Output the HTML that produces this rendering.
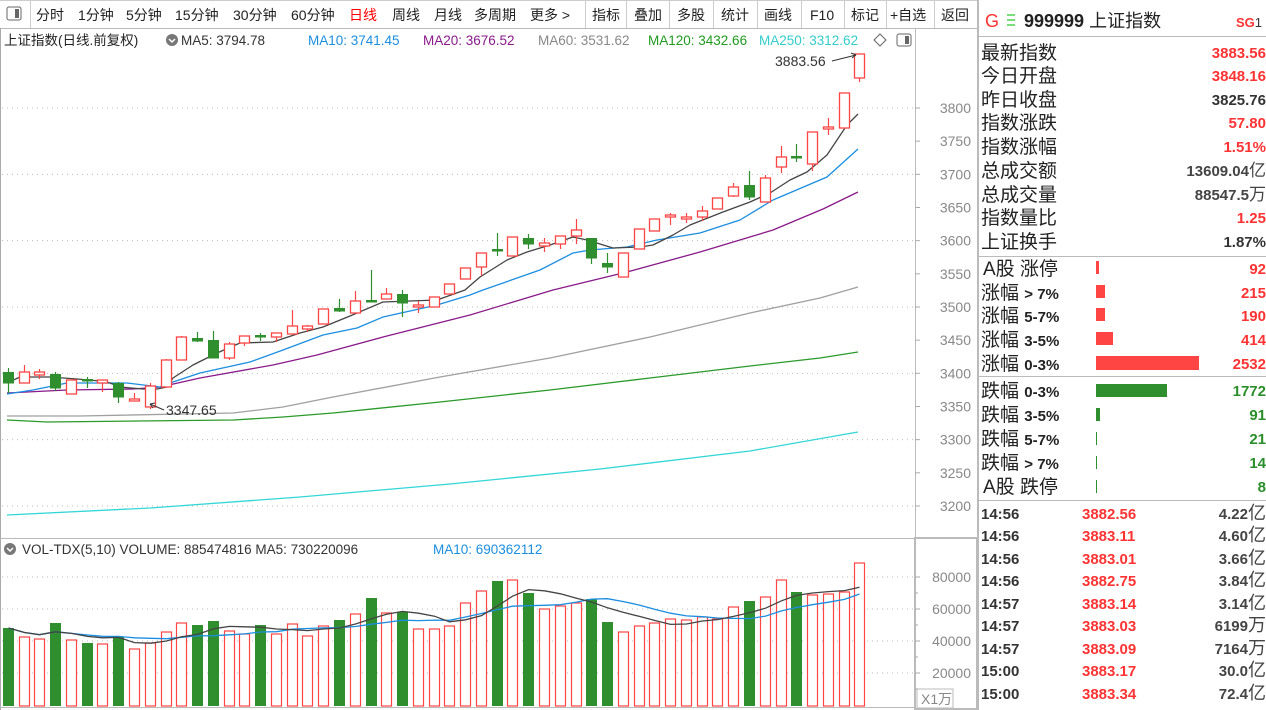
<!DOCTYPE html>
<html><head><meta charset="utf-8"><style>
html,body{margin:0;padding:0;background:#fff;width:1266px;height:710px;overflow:hidden}
svg{display:block}
text{font-family:"Liberation Sans","Noto Sans CJK SC",sans-serif}
.cj{font-family:"Liberation Sans","Noto Sans CJK SC",sans-serif}
</style></head><body>
<svg id="s" width="1266" height="710" xmlns="http://www.w3.org/2000/svg">
<rect width="1266" height="710" fill="#fff"/>
<!-- toolbar -->
<line x1="0" y1="28.5" x2="978" y2="28.5" stroke="#bbb"/>
<line x1="0" y1="0.5" x2="978" y2="0.5" stroke="#ccc"/>
<rect x="7" y="7" width="14" height="13" rx="2" fill="none" stroke="#666"/><rect x="15" y="9" width="4" height="9" fill="#666"/>
<g stroke="#ccc"><line x1="30.5" y1="1" x2="30.5" y2="28"/><line x1="585.5" y1="1" x2="585.5" y2="28"/><line x1="626.5" y1="1" x2="626.5" y2="28"/><line x1="669.5" y1="1" x2="669.5" y2="28"/><line x1="713.5" y1="1" x2="713.5" y2="28"/><line x1="757.5" y1="1" x2="757.5" y2="28"/><line x1="801.5" y1="1" x2="801.5" y2="28"/><line x1="844.5" y1="1" x2="844.5" y2="28"/><line x1="886.5" y1="1" x2="886.5" y2="28"/><line x1="934.5" y1="1" x2="934.5" y2="28"/></g>
<g font-size="14" fill="#222">
<text x="36" y="20">分时</text><text x="78" y="20">1分钟</text><text x="126" y="20">5分钟</text><text x="175" y="20">15分钟</text><text x="233" y="20">30分钟</text><text x="291" y="20">60分钟</text><text x="349" y="20" fill="#f00">日线</text><text x="392" y="20">周线</text><text x="434" y="20">月线</text><text x="474" y="20">多周期</text><text x="530" y="20">更多 &gt;</text>
<text x="592" y="20">指标</text><text x="634" y="20">叠加</text><text x="677" y="20">多股</text><text x="721" y="20">统计</text><text x="764" y="20">画线</text><text x="810" y="20">F10</text><text x="851" y="20">标记</text><text x="890" y="20">+自选</text><text x="941" y="20">返回</text>
</g>
<!-- title line -->
<g font-size="13.5">
<text x="4" y="45" fill="#222">上证指数(日线.前复权)</text>
<circle cx="172" cy="40" r="6" fill="#777"/><path d="M169 39 l3 3 l3 -3" stroke="#fff" fill="none" stroke-width="1.5"/>
<text x="181" y="45" fill="#333">MA5: 3794.78</text>
<text x="308" y="45" fill="#1a8ee0">MA10: 3741.45</text>
<text x="423" y="45" fill="#8a1a8a">MA20: 3676.52</text>
<text x="538" y="45" fill="#888">MA60: 3531.62</text>
<text x="648" y="45" fill="#1f9a1f">MA120: 3432.66</text>
<text x="759" y="45" fill="#33cccc">MA250: 3312.62</text>
</g>
<path d="M880 34 l6 6 l-6 6 l-6 -6z" fill="none" stroke="#666"/>
<rect x="897" y="34" width="14" height="12" rx="2" fill="none" stroke="#666"/><rect x="905" y="36" width="4" height="8" fill="#666"/>
<!-- frame -->
<line x1="0.5" y1="28" x2="0.5" y2="710" stroke="#aaa"/>
<line x1="915.5" y1="28" x2="915.5" y2="708" stroke="#bbb"/>
<line x1="0" y1="538.5" x2="978" y2="538.5" stroke="#bbb"/>
<rect x="915" y="538" width="62" height="171" fill="none" stroke="#bbb" stroke-width="2"/>
<line x1="0" y1="707.5" x2="915" y2="707.5" stroke="#bbb"/>
<line x1="978" y1="0" x2="978" y2="710" stroke="#bbb" stroke-width="2"/>
<g id="grid" stroke="#bbb" stroke-dasharray="1,4"></g>
<g id="axis" font-size="14" fill="#888" text-anchor="end"></g>
<text x="921" y="704" font-size="14" fill="#888">X1万</text>
<rect x="917" y="689" width="36" height="19" fill="none" stroke="#bbb"/>
<g id="ma"></g>
<g id="cdl"></g>
<!-- annotations -->
<path d="M150 404 L164 410" stroke="#333" fill="none"/><path d="M150 404 l5 -1 M150 404 l3 4" stroke="#333"/>
<text x="166" y="415" font-size="14" fill="#333">3347.65</text>
<text x="775" y="66" font-size="14" fill="#333">3883.56</text>
<path d="M832 61 L856 55" stroke="#333"/><path d="M856 55 l-5 -2 M856 55 l-4 3" stroke="#333"/>
<!-- volume -->
<g font-size="13.5">
<circle cx="10" cy="549" r="6" fill="#777"/><path d="M7 548 l3 3 l3 -3" stroke="#fff" fill="none" stroke-width="1.5"/>
<text x="22" y="554" fill="#333">VOL-TDX(5,10)  VOLUME: 885474816  MA5: 730220096</text>
<text x="433" y="554" fill="#1a8ee0">MA10: 690362112</text>
</g>
<g id="vol"></g>
<!-- right panel -->
<text x="985" y="27" font-size="18" fill="#f33">G</text>
<g stroke="#3c3" stroke-width="1.3"><line x1="1007" y1="15" x2="1015" y2="15"/><line x1="1007" y1="20" x2="1015" y2="20"/><line x1="1007" y1="25" x2="1015" y2="25"/></g>
<text x="1024" y="27" font-size="18" fill="#222"><tspan font-weight="bold">999999</tspan> 上证指数</text>
<text x="1236" y="27" font-size="13" fill="#f33" font-weight="bold">SG<tspan fill="#333" font-weight="normal">1</tspan></text>
<line x1="979" y1="36.5" x2="1266" y2="36.5" stroke="#bbb"/>
<line x1="979" y1="256.5" x2="1266" y2="256.5" stroke="#bbb"/>
<line x1="979" y1="376.5" x2="1266" y2="376.5" stroke="#bbb"/>
<line x1="979" y1="500.5" x2="1266" y2="500.5" stroke="#bbb"/>
<g font-size="19" fill="#222">
<text x="981" y="59">最新指数</text><text x="981" y="82">今日开盘</text><text x="981" y="106">昨日收盘</text><text x="981" y="129">指数涨跌</text><text x="981" y="153">指数涨幅</text><text x="981" y="177">总成交额</text><text x="981" y="201">总成交量</text><text x="981" y="224">指数量比</text><text x="981" y="248">上证换手</text>
<text x="983" y="275">A股 涨停</text><text x="981" y="299">涨幅 <tspan font-size="15" font-weight="bold">&gt; 7%</tspan></text><text x="981" y="322">涨幅 <tspan font-size="15" font-weight="bold">5-7%</tspan></text><text x="981" y="346">涨幅 <tspan font-size="15" font-weight="bold">3-5%</tspan></text><text x="981" y="370">涨幅 <tspan font-size="15" font-weight="bold">0-3%</tspan></text>
<text x="981" y="397">跌幅 <tspan font-size="15" font-weight="bold">0-3%</tspan></text><text x="981" y="421">跌幅 <tspan font-size="15" font-weight="bold">3-5%</tspan></text><text x="981" y="445">跌幅 <tspan font-size="15" font-weight="bold">5-7%</tspan></text><text x="981" y="469">跌幅 <tspan font-size="15" font-weight="bold">&gt; 7%</tspan></text><text x="983" y="493">A股 跌停</text>
</g>
<g font-size="15" font-weight="bold" text-anchor="end">
<text x="1266" y="58" fill="#f33">3883.56</text><text x="1266" y="81" fill="#f33">3848.16</text><text x="1266" y="105" fill="#333">3825.76</text><text x="1266" y="128" fill="#f33">57.80</text><text x="1266" y="152" fill="#f33">1.51%</text><text x="1266" y="176" fill="#444">13609.04<tspan font-weight="normal" font-size="17">亿</tspan></text><text x="1266" y="200" fill="#444">88547.5<tspan font-weight="normal" font-size="17">万</tspan></text><text x="1266" y="223" fill="#f33">1.25</text><text x="1266" y="247" fill="#333">1.87%</text>
<text x="1266" y="274" fill="#f33">92</text><text x="1266" y="298" fill="#f33">215</text><text x="1266" y="321" fill="#f33">190</text><text x="1266" y="345" fill="#f33">414</text><text x="1266" y="369" fill="#f33">2532</text>
<text x="1266" y="396" fill="#2a8f2a">1772</text><text x="1266" y="420" fill="#2a8f2a">91</text><text x="1266" y="444" fill="#2a8f2a">21</text><text x="1266" y="468" fill="#2a8f2a">14</text><text x="1266" y="492" fill="#2a8f2a">8</text>
</g>
<g fill="#f44"><rect x="1096" y="261" width="3" height="13"/><rect x="1096" y="285" width="9" height="13"/><rect x="1096" y="308" width="9" height="13"/><rect x="1096" y="332" width="17" height="13"/><rect x="1096" y="356" width="103" height="14"/></g>
<g fill="#2f8f2f"><rect x="1096" y="384" width="71" height="13"/><rect x="1096" y="408" width="4" height="13"/><rect x="1096" y="432" width="1" height="13"/><rect x="1096" y="456" width="1" height="13"/><rect x="1096" y="480" width="1" height="13"/></g>
<g font-size="15" font-weight="bold">
<g fill="#333"><text x="981" y="519">14:56</text><text x="981" y="541">14:56</text><text x="981" y="564">14:56</text><text x="981" y="586">14:56</text><text x="981" y="609">14:57</text><text x="981" y="631">14:57</text><text x="981" y="654">14:57</text><text x="981" y="676">15:00</text><text x="981" y="699">15:00</text></g>
<g fill="#f33"><text x="1082" y="519">3882.56</text><text x="1082" y="541">3883.11</text><text x="1082" y="564">3883.01</text><text x="1082" y="586">3882.75</text><text x="1082" y="609">3883.14</text><text x="1082" y="631">3883.03</text><text x="1082" y="654">3883.09</text><text x="1082" y="676">3883.17</text><text x="1082" y="699">3883.34</text></g>
<g fill="#444" text-anchor="end"><text x="1266" y="519">4.22<tspan font-weight="normal" font-size="18">亿</tspan></text><text x="1266" y="541">4.60<tspan font-weight="normal" font-size="18">亿</tspan></text><text x="1266" y="564">3.66<tspan font-weight="normal" font-size="18">亿</tspan></text><text x="1266" y="586">3.84<tspan font-weight="normal" font-size="18">亿</tspan></text><text x="1266" y="609">3.14<tspan font-weight="normal" font-size="18">亿</tspan></text><text x="1266" y="631">6199<tspan font-weight="normal" font-size="18">万</tspan></text><text x="1266" y="654">7164<tspan font-weight="normal" font-size="18">万</tspan></text><text x="1266" y="676">30.0<tspan font-weight="normal" font-size="18">亿</tspan></text><text x="1266" y="699">72.4<tspan font-weight="normal" font-size="18">亿</tspan></text></g>
</g>
</svg>
<script>
(function(){
var NS="http://www.w3.org/2000/svg";
function el(p,t,a){var e=document.createElementNS(NS,t);for(var k in a)e.setAttribute(k,a[k]);p.appendChild(e);return e;}
var grid=document.getElementById('grid'),axis=document.getElementById('axis'),ma=document.getElementById('ma'),cdl=document.getElementById('cdl'),vol=document.getElementById('vol');
var svg=document.getElementById('s');
// price axis
for(var p=3200;p<=3800;p+=50){var y=108+(3800-p)*0.6633;
 el(svg,'line',{x1:915,y1:y,x2:920,y2:y,stroke:'#aaa'});
 var t=el(axis,'text',{x:971,y:y+5});t.textContent=p;
 if(p%100==0)el(grid,'line',{x1:2,y1:y,x2:915,y2:y});}
var vl=[[80000,577],[60000,609],[40000,641],[20000,673]];
vl.forEach(function(v){el(grid,'line',{x1:2,y1:v[1],x2:915,y2:v[1]});el(svg,'line',{x1:915,y1:v[1],x2:920,y2:v[1],stroke:'#aaa'});var t=el(axis,'text',{x:971,y:v[1]+5});t.textContent=v[0];});
[593,625,657,689].forEach(function(y){el(svg,'line',{x1:915,y1:y,x2:918,y2:y,stroke:'#aaa'});});
function pl(pts,c,w){el(ma,'polyline',{points:pts.map(function(q){return q.join(',')}).join(' '),fill:'none',stroke:c,'stroke-width':w||1.3,'stroke-linejoin':'round'});}
pl([[7,515],[150,508],[300,497],[450,484],[600,469],[750,451],[858,432]],'#33d6d6');
pl([[7,420],[47,422],[233,420],[283,417],[333,413],[440,402],[550,390],[650,378],[750,366],[820,358],[858,352]],'#2a9a2a');
pl([[7,416],[80,416],[233,413],[283,407],[333,397],[440,377],[550,358],[650,337],[750,313],[820,298],[858,287]],'#a0a0a0');
pl([[7,393],[67,390],[133,389],[160,387],[200,378],[273,365],[317,355],[383,337],[470,315],[553,290],[627,272],[700,252],[773,230],[823,209],[858,192]],'#8a1a8a');
pl([[7,394],[33,390],[67,383],[127,383],[160,387],[173,382],[200,373],[250,362],[283,350],[323,335],[357,328],[383,317],[437,305],[470,295],[483,290],[540,270],[573,253],[590,250],[627,247],[657,240],[700,233],[740,220],[773,200],[827,177],[858,149]],'#1a8ee0');
pl([[7,383],[20,377],[50,377],[77,379],[100,381],[110,383],[120,387],[143,389],[157,389],[167,387],[173,378],[193,365],[217,353],[240,343],[273,342],[300,333],[323,327],[350,316],[383,302],[437,300],[465,290],[480,277],[507,260],[527,252],[550,245],[573,237],[587,240],[613,248],[640,247],[653,245],[673,235],[690,225],[723,212],[750,202],[770,193],[790,180],[807,172],[827,155],[837,140],[847,125],[858,114]],'#444');
var C=[
['g',372,383,368,393],['r',372,383,365,383],['r',372,375,369,379],['g',374,388,372,391],['r',380,394,380,394],['g',379,381,377,388],['r',380,383,380,392],['g',383,397,382,403],['r',399,401,393,401],['r',386,407,383,409],
['r',360,387,359,387],['r',337,360,336,360],['g',338,341,332,342],['g',340,358,331,358],['r',344,358,342,360],['r',336,343,336,346],['g',335,337,333,341],['r',333,337,333,342],['r',326,334,310,334],['r',326,329,325,332],
['r',309,324,309,324],['g',308,311,299,312],['r',301,313,291,313],['g',300,302,270,302],['r',294,299,288,299],['g',294,303,290,317],['r',305,307,301,313],['r',297,307,297,307],['r',284,294,284,294],['r',268,279,268,279],
['r',253,267,253,276],['g',249,251,233,256],['r',237,256,237,256],['g',238,244,234,249],['r',243,246,238,252],['r',236,244,236,249],['r',230,236,219,244],['g',238,258,238,264],['g',263,267,253,273],['r',253,277,253,277],
['r',229,249,229,249],['r',219,231,219,231],['r',215,217,213,225],['r',217,219,213,223],['r',211,217,206,221],['r',198,209,198,209],['r',187,196,183,197],['g',185,197,171,200],['r',178,202,175,202],['r',157,167,146,173],
['g',156,158,144,162],['r',132,164,132,171],['r',127,129,118,135],['r',93,128,93,128],['r',54,78,54,82]];
var V=[628,637,639,623,640,643,644,637,649,643,632,623,625,621,631,634,625,634,624,636,626,620,614,598,613,612,629,629,626,603,591,581,580,593,609,606,603,599,622,632,626,623,619,620,617,619,607,601,597,580,592,595,594,592,563];
var RED='#f44',GRN='#2f8f2f',B=706;
C.forEach(function(c,i){var x=Math.round(7.8+15.77*i)+0.5;var col=c[0]=='r'?RED:GRN;
 el(cdl,'line',{x1:x,y1:c[3],x2:x,y2:c[1],stroke:col,'stroke-width':1.2});
 el(cdl,'line',{x1:x,y1:c[2],x2:x,y2:c[4],stroke:col,'stroke-width':1.2});
 var h=Math.max(1,c[2]-c[1]);
 if(c[0]=='r')el(cdl,'rect',{x:x-5,y:c[1],width:10,height:h,fill:'#fff',stroke:col,'stroke-width':1.3});
 else el(cdl,'rect',{x:x-5.5,y:c[1],width:11,height:h+0.5,fill:col});
 var t=V[i];
 if(c[0]=='r')el(vol,'rect',{x:x-5,y:t,width:10,height:B-t,fill:'#fff',stroke:RED,'stroke-width':1.2});
 else el(vol,'rect',{x:x-5.5,y:t,width:11,height:B-t,fill:GRN});
});
function vma(n){var pts=[];for(var i=0;i<V.length;i++){var s=0,k=0;for(var j=Math.max(0,i-n+1);j<=i;j++){s+=B-V[j];k++;}pts.push([Math.round(7.8+15.77*i)+0.5,(B-s/k).toFixed(1)]);}return pts;}
function vpl(pts,c){el(vol,'polyline',{points:pts.map(function(q){return q.join(',')}).join(' '),fill:'none',stroke:c,'stroke-width':1.3});}
vpl(vma(10),'#1a8ee0');vpl(vma(5),'#444');
})();
</script>
</body></html>
